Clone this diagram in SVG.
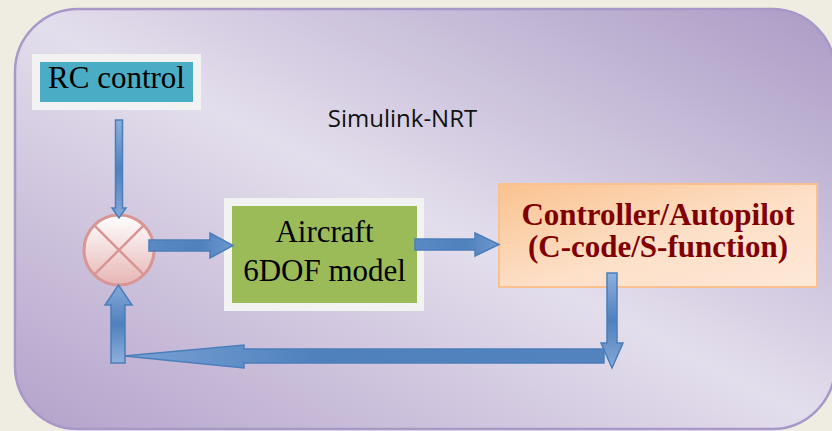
<svg xmlns="http://www.w3.org/2000/svg" width="832" height="431" viewBox="0 0 832 431">
  <defs>
    <linearGradient id="panelFill" x1="1" y1="0" x2="0" y2="1">
      <stop offset="0" stop-color="#ab9bc5"/>
      <stop offset="0.5" stop-color="#e3deec"/>
      <stop offset="1" stop-color="#b3a2ca"/>
    </linearGradient>
    <linearGradient id="sumFill" x1="0" y1="0" x2="0" y2="1">
      <stop offset="0" stop-color="#ffffff"/>
      <stop offset="1" stop-color="#e6b6b5"/>
    </linearGradient>
    <linearGradient id="ctrlFill" x1="0" y1="0" x2="1" y2="1">
      <stop offset="0" stop-color="#fac28f"/>
      <stop offset="0.55" stop-color="#fde0c8"/>
      <stop offset="1" stop-color="#fde8d8"/>
    </linearGradient>
    <linearGradient id="arrowV" x1="0" y1="0" x2="0" y2="1">
      <stop offset="0" stop-color="#8fb0dc"/>
      <stop offset="0.5" stop-color="#4f81bd"/>
      <stop offset="1" stop-color="#86a8d8"/>
    </linearGradient>
    <linearGradient id="arrowVUp" x1="0" y1="1" x2="0" y2="0">
      <stop offset="0" stop-color="#8fb0dc"/>
      <stop offset="0.5" stop-color="#4f81bd"/>
      <stop offset="1" stop-color="#86a8d8"/>
    </linearGradient>
    <linearGradient id="arrowH" x1="0" y1="0" x2="1" y2="0">
      <stop offset="0" stop-color="#5a8ac4"/>
      <stop offset="0.6" stop-color="#4f81bd"/>
      <stop offset="1" stop-color="#6f98cf"/>
    </linearGradient>
    <linearGradient id="arrowHLeft" x1="1" y1="0" x2="0" y2="0">
      <stop offset="0" stop-color="#5283bf"/>
      <stop offset="0.6" stop-color="#4f81bd"/>
      <stop offset="1" stop-color="#7aa0d4"/>
    </linearGradient>
  </defs>
  <style>
    .serif { font-family: "Liberation Serif", "Times New Roman", serif; }
    .arrow { stroke: #4a7ebb; stroke-width: 1.5; stroke-linejoin: miter; }
    .frame { fill: #f2f2f2; }
  </style>

  <!-- page background -->
  <rect x="0" y="0" width="832" height="431" fill="#efede1"/>

  <!-- rounded panel holding the loop -->
  <g id="panel">
    <rect x="15" y="9" width="820" height="420" rx="63" ry="63" fill="url(#panelFill)" stroke="#a898c8" stroke-width="2.5"/>
    <text x="402.5" y="127" text-anchor="middle" font-family="'Open Sans', 'Liberation Sans', sans-serif" font-size="24" fill="#111">Simulink-NRT</text>
  </g>

  <g id="rc-control">
    <rect class="frame" x="32" y="54" width="169" height="56"/>
    <rect x="40" y="62" width="153" height="40" fill="#4bacc6"/>
    <text class="serif" x="116.5" y="88" text-anchor="middle" font-size="31" fill="#000">RC control</text>
  </g>

  <g id="sum">
    <circle cx="119" cy="250" r="35" fill="url(#sumFill)" stroke="#d99594" stroke-width="3"/>
    <line x1="94.3" y1="225.3" x2="143.7" y2="274.7" stroke="#d99594" stroke-width="2.5"/>
    <line x1="143.7" y1="225.3" x2="94.3" y2="274.7" stroke="#d99594" stroke-width="2.5"/>
  </g>

  <g id="aircraft">
    <rect class="frame" x="224" y="198" width="200" height="113"/>
    <rect x="232" y="206" width="185" height="97" fill="#9bbb59"/>
    <text class="serif" x="324.5" y="242" text-anchor="middle" font-size="31" fill="#000">Aircraft</text>
    <text class="serif" x="324.5" y="281" text-anchor="middle" font-size="31" fill="#000">6DOF model</text>
  </g>

  <g id="controller">
    <rect x="499" y="184" width="318" height="103" fill="url(#ctrlFill)" stroke="#fac08f" stroke-width="2"/>
    <text class="serif" x="658" y="225" text-anchor="middle" font-size="31" font-weight="bold" fill="#800000">Controller/Autopilot</text>
    <text class="serif" x="658" y="257" text-anchor="middle" font-size="31" font-weight="bold" fill="#800000">(C-code/S-function)</text>
  </g>

  <!-- block arrows of the signal loop -->
  <g id="connectors">
    <!-- RC control into the summing junction -->
    <polygon class="arrow" fill="url(#arrowV)" points="115.5,120 122.5,120 122.5,208 126,208 119,218 112,208 115.5,208"/>
    <!-- summing junction to aircraft model -->
    <polygon class="arrow" fill="url(#arrowH)" points="149,240 210,240 210,233 233,245.5 210,258 210,251 149,251"/>
    <!-- aircraft model to controller -->
    <polygon class="arrow" fill="url(#arrowH)" points="415,239 475,239 475,233 499,244.5 475,256 475,250 415,250"/>
    <!-- controller output going down -->
    <polygon class="arrow" fill="url(#arrowV)" points="607,273 617,273 617,343 623,343 612,368 601,343 607,343"/>
    <!-- feedback path running left -->
    <polygon class="arrow" fill="url(#arrowHLeft)" points="604,349 604,363 244,363 244,368 124,356 244,345 244,349"/>
    <!-- feedback rising into the summing junction -->
    <polygon class="arrow" fill="url(#arrowVUp)" points="111,363 111,305 105,305 118.5,285 132,305 125,305 125,363"/>
  </g>
</svg>
